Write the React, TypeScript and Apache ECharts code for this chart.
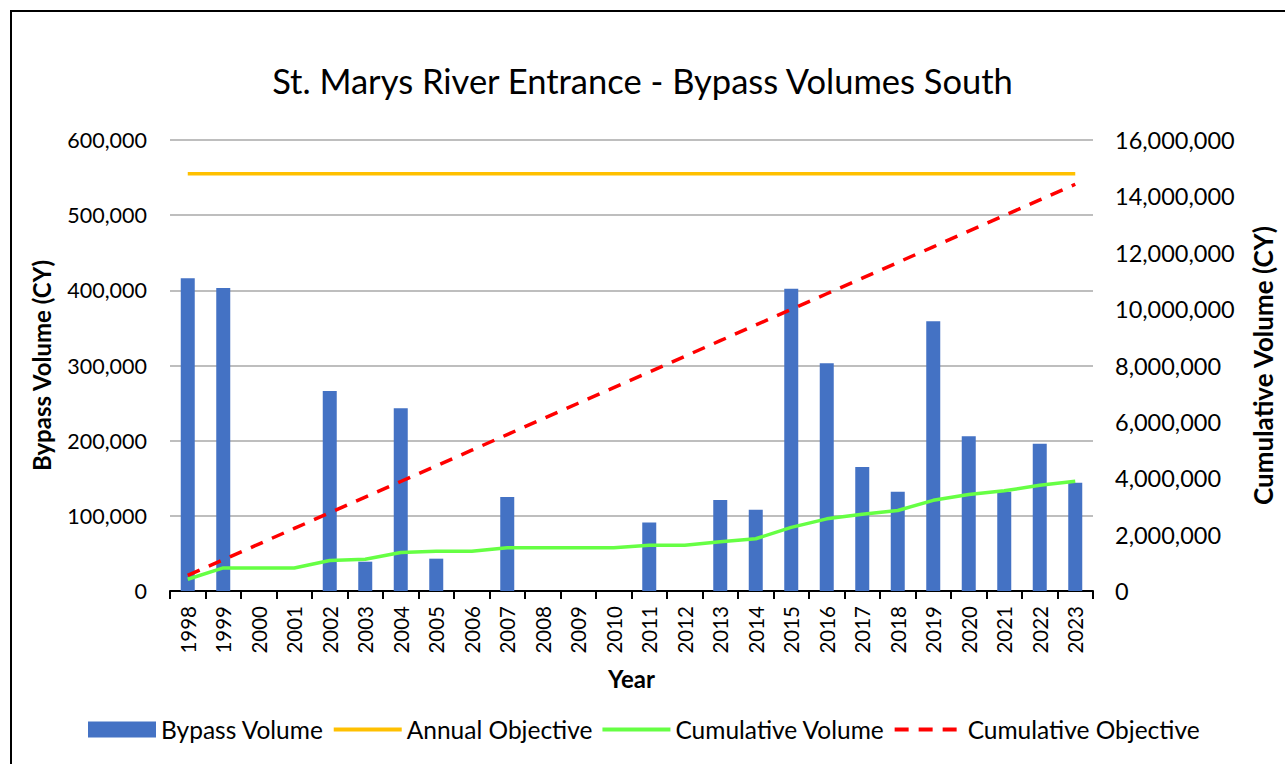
import React, { useEffect, useRef } from "react";
import * as echarts from "echarts";

const years = ["1998","1999","2000","2001","2002","2003","2004","2005","2006","2007","2008","2009","2010","2011","2012","2013","2014","2015","2016","2017","2018","2019","2020","2021","2022","2023"];
const bypassVolume = [416000,403000,0,0,266000,39000,243000,43000,0,125000,0,0,0,91000,0,121000,108000,402000,303000,165000,132000,359000,206000,132000,196000,144000];
const annualObjective = [555000,555000,555000,555000,555000,555000,555000,555000,555000,555000,555000,555000,555000,555000,555000,555000,555000,555000,555000,555000,555000,555000,555000,555000,555000,555000];
const cumulativeVolume = [416000,819000,819000,819000,1085000,1124000,1367000,1410000,1410000,1535000,1535000,1535000,1535000,1626000,1626000,1747000,1855000,2257000,2560000,2725000,2857000,3216000,3422000,3554000,3750000,3894000];
const cumulativeObjective = [555000,1110000,1665000,2220000,2775000,3330000,3885000,4440000,4995000,5550000,6105000,6660000,7215000,7770000,8325000,8880000,9435000,9990000,10545000,11100000,11655000,12210000,12765000,13320000,13875000,14430000];

const FONT = "Lato, 'Noto Sans', sans-serif";
const fmt = (v: number) => v.toLocaleString("en-US");
const hiddenSymbol = { color: "rgba(0,0,0,0)", borderColor: "rgba(0,0,0,0)", borderWidth: 0, opacity: 0 };

export default function App() {
  const ref = useRef<HTMLDivElement>(null);
  useEffect(() => {
    if (!ref.current) return;
    const chart = echarts.init(ref.current, null, { renderer: "svg" });
    chart.setOption({
      animation: false,
      backgroundColor: "#ffffff",
      textStyle: { fontFamily: FONT, color: "#000" },
      title: {
        text: "St. Marys River Entrance - Bypass Volumes South",
        left: "center",
        top: 58,
        textStyle: { fontFamily: FONT, fontSize: 34.5, fontWeight: "normal", color: "#000" },
      },
      graphic: [
        {
          type: "rect",
          shape: { x: 11, y: 11, width: 1400, height: 900 },
          style: { fill: "none", stroke: "#000", lineWidth: 2 },
          silent: true,
        },
      ],
      legend: {
        left: 83,
        top: 712,
        itemWidth: 68,
        itemHeight: 16,
        itemGap: 8,
        textStyle: { fontFamily: FONT, fontSize: 24.5, color: "#000", padding: [0, 0, 0, 0] },
        data: [
          { name: "Bypass Volume", icon: "rect" },
          { name: "Annual Objective", itemStyle: hiddenSymbol, lineStyle: { width: 4 } },
          { name: "Cumulative Volume", itemStyle: hiddenSymbol, lineStyle: { width: 4 } },
          { name: "Cumulative Objective", itemStyle: hiddenSymbol, lineStyle: { width: 4, type: [14, 10] } },
        ],
      },
      grid: { left: 170, right: 1285 - 1093, top: 140, bottom: 764 - 591, outerBoundsMode: "none" },
      xAxis: {
        type: "category",
        data: years,
        boundaryGap: true,
        name: "Year",
        nameLocation: "middle",
        nameGap: 75,
        nameTextStyle: { fontFamily: FONT, fontSize: 24, fontWeight: "bold", color: "#000" },
        axisLine: { lineStyle: { color: "#000", width: 2 } },
        axisTick: { show: true, alignWithLabel: false, length: 8, lineStyle: { color: "#000", width: 2 } },
        axisLabel: { rotate: 90, fontFamily: FONT, fontSize: 20.5, color: "#000", margin: 15, interval: 0 },
        splitLine: { show: false },
      },
      yAxis: [
        {
          type: "value",
          min: 0,
          max: 600000,
          interval: 100000,
          name: "Bypass Volume (CY)",
          nameLocation: "middle",
          nameGap: 117,
          nameTextStyle: { fontFamily: FONT, fontSize: 24, fontWeight: "bold", color: "#000" },
          axisLine: { show: false },
          axisTick: { show: false },
          axisLabel: { formatter: fmt, fontFamily: FONT, fontSize: 21.5, color: "#000", margin: 23 },
          splitLine: { lineStyle: { color: "#a9a9a9", width: 1.5 } },
        },
        {
          type: "value",
          min: 0,
          max: 16000000,
          interval: 2000000,
          position: "right",
          name: "Cumulative Volume (CY)",
          nameLocation: "middle",
          nameGap: 157,
          nameTextStyle: { fontFamily: FONT, fontSize: 26, fontWeight: "bold", color: "#000" },
          axisLine: { show: false },
          axisTick: { show: false },
          axisLabel: { formatter: fmt, fontFamily: FONT, fontSize: 23.5, color: "#000", margin: 22 },
          splitLine: { show: false },
        },
      ],
      series: [
        {
          name: "Bypass Volume",
          type: "bar",
          data: bypassVolume,
          barWidth: 14,
          itemStyle: { color: "#4472C4" },
          yAxisIndex: 0,
        },
        {
          name: "Annual Objective",
          type: "line",
          data: annualObjective,
          yAxisIndex: 0,
          symbol: "none",
          lineStyle: { color: "#FFC000", width: 3.5 },
          itemStyle: { color: "#FFC000" },
        },
        {
          name: "Cumulative Volume",
          type: "line",
          data: cumulativeVolume,
          yAxisIndex: 1,
          symbol: "none",
          lineStyle: { color: "#66FF44", width: 3.5 },
          itemStyle: { color: "#66FF44" },
        },
        {
          name: "Cumulative Objective",
          type: "line",
          data: cumulativeObjective,
          yAxisIndex: 1,
          symbol: "none",
          lineStyle: { color: "#FF0000", width: 3.5, type: [13, 10] },
          itemStyle: { color: "#FF0000" },
        },
      ],
    });
    return () => chart.dispose();
  }, []);
  return (
    <div
      ref={ref}
      style={{ position: "fixed", left: 0, top: 0, width: 1285, height: 764, background: "#fff" }}
    />
  );
}
